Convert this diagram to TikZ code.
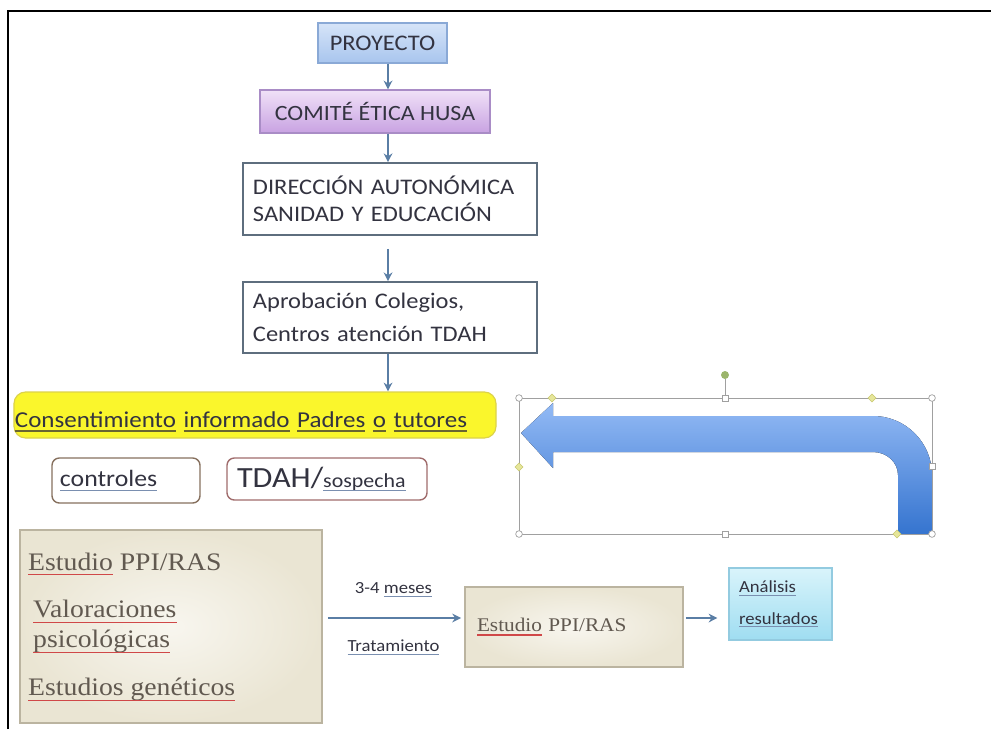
\documentclass[tikz,border=0pt]{standalone}
\usepackage{fontspec}
\setmainfont{Carlito}[FakeStretch=1.1]
\newfontfamily\camfont{Liberation Serif}[FakeStretch=1.1]
\usetikzlibrary{arrows.meta}

\definecolor{txtdark}{HTML}{333340}
\definecolor{sertext}{HTML}{615950}
\definecolor{proytop}{HTML}{D6E4F8}
\definecolor{proybot}{HTML}{A8C5EE}
\definecolor{proyline}{HTML}{8AA9D6}
\definecolor{comtop}{HTML}{F0E1F7}
\definecolor{combot}{HTML}{C8A2E2}
\definecolor{comline}{HTML}{A98CC6}
\definecolor{boxgray}{HTML}{5E6E7E}
\definecolor{consfill}{HTML}{FAF62C}
\definecolor{consline}{HTML}{DCD24A}
\definecolor{ctlline}{HTML}{86705E}
\definecolor{tdahline}{HTML}{A06C6C}
\definecolor{beigein}{HTML}{F8F6EF}
\definecolor{beigeout}{HTML}{EAE5D3}
\definecolor{beigeline}{HTML}{BBB4A0}
\definecolor{anatop}{HTML}{D9F4FB}
\definecolor{anabot}{HTML}{9FDDF1}
\definecolor{analine}{HTML}{93CBE0}
\definecolor{arrowblue}{HTML}{5A7EA5}
\definecolor{bendtop}{HTML}{93BAF5}
\definecolor{bendbot}{HTML}{3574CF}
\definecolor{handleline}{HTML}{A0A0A0}
\definecolor{adjfill}{HTML}{E6E69A}
\definecolor{adjline}{HTML}{C8C870}
\definecolor{rotgreen}{HTML}{9BB56B}
\definecolor{spellred}{HTML}{D04848}
\definecolor{dotblue}{HTML}{7A8FB0}
\definecolor{dotolive}{HTML}{6A6530}

% spell-check underline under a word
\newsavebox\spellbox
\newcommand\spell[2][spellred]{\leavevmode\sbox\spellbox{#2}%
    \usebox\spellbox\llap{\textcolor{#1}{\rule[-0.2em]{\wd\spellbox}{0.06em}}}}

\begin{document}
\begin{tikzpicture}[x=0.03cm, y=-0.03cm,
    flowarrow/.style={-{Stealth[length=7.5pt,width=7.5pt]}, line width=1.5pt, draw=arrowblue},
    gradbox/.style={line width=1pt, text=txtdark, font=\fontsize{19}{23}\selectfont},
    plainbox/.style={draw=boxgray, line width=1.4pt, fill=white, text=txtdark, align=left, inner xsep=0.3cm},
    tagbox/.style={rounded corners=0.22cm, line width=1.2pt, text=txtdark, align=left},
    beigebox/.style={draw=beigeline, line width=1.6pt, inner color=beigein, outer color=beigeout},
    serifline/.style={anchor=base west, inner sep=0pt, text=sertext, font=\camfont\fontsize{21.5}{25}\selectfont},
    redline/.style={draw=spellred, line width=1.3pt},
    labeltext/.style={text=txtdark, font=\fontsize{14.5}{17}\selectfont},
    handle/.style={draw=handleline, line width=0.6pt}]
    \useasboundingbox (0,0) rectangle (991,729);
    % frame of the slide
    \draw[line width=1.6pt] (8,729) -- (8,11) -- (991,11);
    % approval chain
    \node[gradbox, draw=proyline, top color=proytop, bottom color=proybot,
        minimum width=3.87cm, minimum height=1.2cm] (proyecto) at (382.5,43) {PROYECTO};
    \node[gradbox, draw=comline, top color=comtop, bottom color=combot,
        minimum width=6.9cm, minimum height=1.29cm, font=\fontsize{18.6}{22}\selectfont] (comite) at (375,111.5) {COMITÉ ÉTICA HUSA};
    \node[plainbox, text width=8.22cm, minimum height=2.16cm, font=\fontsize{19}{23}\selectfont]
        (direccion) at (390,199) {DIRECCIÓN AUTONÓMICA\\SANIDAD Y EDUCACIÓN};
    \node[plainbox, text width=8.22cm, minimum height=2.13cm, font=\fontsize{19}{28}\selectfont]
        (aprobacion) at (390,317.5) {Aprobación Colegios,\\Centros atención TDAH};
    \node[draw=consline, fill=consfill, rounded corners=0.35cm, line width=1pt, text=txtdark,
        minimum width=14.46cm, minimum height=1.38cm, inner xsep=0pt, text width=14.4cm, align=left,
        text height=0.8cm, text depth=0.08cm, font=\fontsize{19.4}{23}\selectfont] (consent) at (255,415)
        {\spell[dotolive]{Consentimiento} \spell[dotolive]{informado} \spell[dotolive]{Padres} \spell[dotolive]{o} \spell[dotolive]{tutores}};
    % groups
    \node[tagbox, draw=ctlline, minimum width=4.44cm, minimum height=1.35cm, text width=3.96cm,
        inner xsep=0.24cm, font=\fontsize{20}{24}\selectfont] (controles) at (126,480.5) {\spell[dotblue]{controles}};
    \node[tagbox, draw=tdahline, minimum width=6cm, minimum height=1.26cm, text width=5.4cm,
        inner xsep=0.3cm] (tdah) at (327,479)
        {{\fontsize{25}{28}\selectfont TDAH/}{\fontsize{17}{20}\selectfont\spell[dotblue]{sospecha}}};
    % arrows down the chain
    \coordinate (axis) at (388,0);
    \foreach \a/\b/\gap in {proyecto/comite/0, comite/direccion/0, direccion/aprobacion/0.39, aprobacion/consent/0}
        \draw[flowarrow, shorten <=\gap cm] (\a.south -| axis) -- (\b.north -| axis);
    % bent arrow back to the consent step (still selected)
    \fill[top color=bendtop, bottom color=bendbot] (521,433) -- (553,403) -- (553,416) -- (873,416)
        .. controls (905.6,416) and (932,442.4) .. (932,475) -- (932,534) -- (898,534) -- (898,475)
        .. controls (898,462.3) and (886.8,452) .. (873,452) -- (553,452) -- (553,468) -- cycle;
    \draw[handle] (519,398) rectangle (932,534);
    \draw[handle] (725,398) -- (725,379);
    \fill[rotgreen] (725,375) circle (0.12cm);
    \foreach \x/\y in {519/398, 932/398, 519/534, 932/534}
        \draw[handle, fill=white] (\x,\y) circle (0.1cm);
    \foreach \x/\y in {725/398, 725/534, 932/466}
        \draw[handle, fill=white] (\x-3,\y-3) rectangle (\x+3,\y+3);
    \foreach \x/\y in {552/398, 872/398, 519/467, 897/534}
        \draw[draw=adjline, fill=adjfill, line width=0.5pt] (\x-4,\y) -- (\x,\y-4) -- (\x+4,\y) -- (\x,\y+4) -- cycle;
    % study phase
    \node[beigebox, minimum width=9.06cm, minimum height=5.79cm] (estudio) at (171,626.5) {};
    \node[serifline] (ppi) at (28,570) {\spell{Estudio} PPI/RAS};
    \node[serifline] (valor) at (33,617) {Valoraciones};
    \node[serifline] (psico) at (33,647) {psicológicas};
    \node[serifline] (genet) at (28,695) {Estudios genéticos};
    \foreach \w in {valor, psico, genet}
        \draw[redline] ([yshift=-4.6pt]\w.base west) -- ([yshift=-4.6pt]\w.base east);
    \node[beigebox, minimum width=6.54cm, minimum height=2.4cm, text width=5.82cm, inner xsep=0.36cm,
        align=left, text=sertext, font=\camfont\fontsize{16.5}{19}\selectfont] (estudiob) at (574,627) {\spell{Estudio} PPI/RAS};
    \node[draw=analine, top color=anatop, bottom color=anabot, line width=1pt, minimum width=3.09cm,
        minimum height=2.16cm, text width=2.49cm, inner xsep=0.3cm, align=left, text=txtdark,
        font=\fontsize{14.5}{27}\selectfont] (analisis) at (780.5,604) {\spell[dotblue]{Análisis}\\\spell[dotblue]{resultados}};
    \coordinate (lvl) at (0,618);
    \draw[flowarrow, shorten <=0.15cm, shorten >=0.09cm] (estudio.east |- lvl) --
        node[labeltext, yshift=0.84cm] (meses) {3-4 \spell[dotblue]{meses}}
        node[labeltext, yshift=-0.88cm] (trat) {\spell[dotblue]{Tratamiento}} (estudiob.west |- lvl);
    \draw[flowarrow, shorten <=0.06cm, shorten >=0.33cm] (estudiob.east |- lvl) -- (analisis.west |- lvl);
\end{tikzpicture}
\end{document}
